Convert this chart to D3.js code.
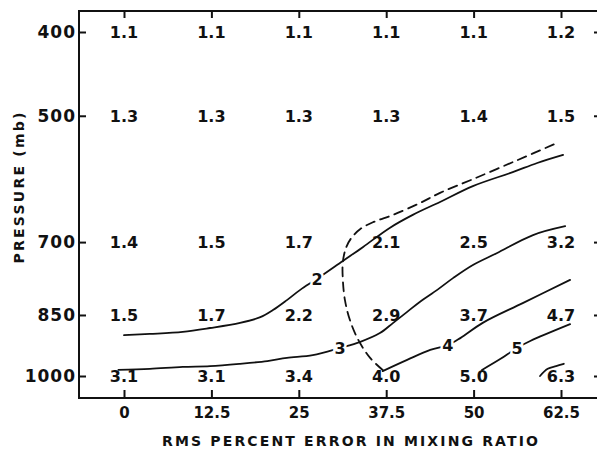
<!DOCTYPE html>
<html>
<head>
<meta charset="utf-8">
<script src="https://cdn.jsdelivr.net/npm/d3@7"></script>
<style>
  html, body { margin: 0; padding: 0; background: #fff; }
  svg { display: block; }
  text { font-family: "DejaVu Sans", sans-serif; fill: #111; }
</style>
</head>
<body>
<svg id="chart" width="597" height="453"></svg>
<script>
// RMS percent error in mixing ratio (columns) by pressure level (rows)
const errorPercents = [0, 12.5, 25, 37.5, 50, 62.5];
const pressureLevels = [400, 500, 700, 850, 1000];
const xTickLabels = ["0", "12.5", "25", "37.5", "50", "62.5"];
const yTickLabels = ["400", "500", "700", "850", "1000"];

// Grid values, one row per pressure level
const values400  = [1.1, 1.1, 1.1, 1.1, 1.1, 1.2];
const values500  = [1.3, 1.3, 1.3, 1.3, 1.4, 1.5];
const values700  = [1.4, 1.5, 1.7, 2.1, 2.5, 3.2];
const values850  = [1.5, 1.7, 2.2, 2.9, 3.7, 4.7];
const values1000 = [3.1, 3.1, 3.4, 4.0, 5.0, 6.3];
const gridRows = [values400, values500, values700, values850, values1000];

// Isolines, points as [percent error, pressure mb]
const contour2 = [[0,897],[3.7,894],[8.4,889],[12.3,880],[16.6,868],[19.5,855],[21.3,839],[23.3,817],[25.2,795],[27.6,772],[31.3,736],[34.2,709],[38.0,674],[41.3,651],[45.2,629],[49.9,603],[55.6,581],[59.1,567],[62.8,555]];
const contour3 = [[-0.8,984],[3.7,981],[8.4,976],[12.3,974],[16.6,968],[20.5,961],[23.3,953],[27.0,946],[30.9,928],[33.8,913],[36.6,892],[38.5,868],[40.5,843],[42.3,821],[44.8,795],[47.1,770],[49.9,744],[53.3,721],[58.5,687],[63.1,671]];
const contour4 = [[37.0,987],[40.5,958],[43.8,933],[46.3,921],[48.1,904],[51.3,868],[57.1,823],[63.8,774]];
const contour5 = [[51.2,984],[53.8,956],[56.2,928],[58.1,911],[63.8,871]];
const contour6 = [[59.5,1000],[60.6,981],[61.8,974],[62.9,968]];
const boundary  = [[37.0,984],[35.2,953],[33.5,908],[32.3,861],[31.6,817],[31.3,774],[31.3,738],[31.8,709],[32.6,691],[33.8,676],[35.6,664],[38.5,651],[42.3,631],[45.2,614],[49.9,592],[56.2,563],[61.6,539]];

// Isoline labels: [text, percent error, pressure mb]
const contourLabels = [["2", 27.6, 772], ["3", 30.9, 928], ["4", 46.3, 921], ["5", 56.2, 928]];

const svg = d3.select("#chart");
const frame = { left: 79, top: 11, right: 601, bottom: 398 };

const x = d3.scaleLinear().domain([0, 62.5]).range([124, 561]);
const y = d3.scaleLog().domain([400, 1000]).range([32, 376]);

// Frame lines
const frameG = svg.append("g").attr("stroke", "#111").attr("stroke-width", 2).attr("fill", "none");
frameG.append("path").attr("d", `M${frame.right},${frame.top}H${frame.left}V${frame.bottom}H${frame.right}`);

// Bottom axis with inward ticks
const xAxis = d3.axisBottom(x).tickValues(errorPercents)
  .tickFormat((d, i) => xTickLabels[i]).tickSize(-8).tickPadding(9);
const gx = svg.append("g").attr("transform", `translate(0,${frame.bottom})`).call(xAxis);
gx.select(".domain").remove();
gx.selectAll("line").attr("stroke", "#111").attr("stroke-width", 2);
gx.selectAll("text").attr("font-size", 15).attr("font-weight", "bold")
  .style("font-family", '"DejaVu Sans", sans-serif').attr("fill", "#111");

// Top axis, ticks only
const gxTop = svg.append("g").attr("transform", `translate(0,${frame.top})`)
  .call(d3.axisTop(x).tickValues(errorPercents).tickFormat("").tickSize(-7));
gxTop.select(".domain").remove();
gxTop.selectAll("line").attr("stroke", "#111").attr("stroke-width", 2);

// Left axis with inward ticks
const yAxis = d3.axisLeft(y).tickValues(pressureLevels)
  .tickFormat((d, i) => yTickLabels[i]).tickSize(-7).tickPadding(3);
const gy = svg.append("g").attr("transform", `translate(${frame.left},0)`).call(yAxis);
gy.select(".domain").remove();
gy.selectAll("line").attr("stroke", "#111").attr("stroke-width", 2);
gy.selectAll("text").attr("font-size", 17).attr("font-weight", "bold")
  .attr("letter-spacing", 1)
  .style("font-family", '"DejaVu Sans", sans-serif').attr("fill", "#111");

// Right axis, ticks only
const gyR = svg.append("g").attr("transform", `translate(${frame.right},0)`)
  .call(d3.axisRight(y).tickValues(pressureLevels).tickFormat("").tickSize(-7));
gyR.select(".domain").remove();
gyR.selectAll("line").attr("stroke", "#111").attr("stroke-width", 2);

// Isolines
const line = d3.line().x(d => x(d[0])).y(d => y(d[1])).curve(d3.curveCatmullRom.alpha(0.5));
const lines = svg.append("g").attr("fill", "none").attr("stroke", "#111")
  .attr("stroke-width", 1.8).attr("stroke-linecap", "round");
[contour2, contour3, contour4, contour5, contour6].forEach(c => {
  lines.append("path").attr("d", line(c));
});
lines.append("path").attr("d", line(boundary)).attr("stroke-dasharray", "9 6");

// Isoline labels, set in a small gap of the line
svg.append("g").selectAll("text").data(contourLabels).join("text")
  .attr("x", d => x(d[1])).attr("y", d => y(d[2])).attr("dy", "0.36em")
  .attr("text-anchor", "middle").attr("font-size", 16).attr("font-weight", "bold")
  .attr("stroke", "#fff").attr("stroke-width", 5).attr("paint-order", "stroke")
  .text(d => d[0]);

// Grid values
const cells = [];
gridRows.forEach((row, r) => row.forEach((v, c) => cells.push({ p: pressureLevels[r], e: errorPercents[c], v })));
svg.append("g").selectAll("text").data(cells).join("text")
  .attr("x", d => x(d.e)).attr("y", d => y(d.p)).attr("dy", "0.36em")
  .attr("text-anchor", "middle").attr("font-size", 16).attr("font-weight", "bold")
  .text(d => d.v.toFixed(1));

// Axis titles
svg.append("text").attr("x", 350).attr("y", 446).attr("text-anchor", "middle")
  .attr("font-size", 14).attr("font-weight", "bold")
  .attr("textLength", 376).attr("lengthAdjust", "spacing")
  .text("RMS PERCENT ERROR IN MIXING RATIO");
svg.append("text").attr("transform", "translate(24,188) rotate(-90)")
  .attr("text-anchor", "middle").attr("font-size", 14).attr("font-weight", "bold")
  .attr("textLength", 151).attr("lengthAdjust", "spacing")
  .text("PRESSURE (mb)");
</script>
</body>
</html>
